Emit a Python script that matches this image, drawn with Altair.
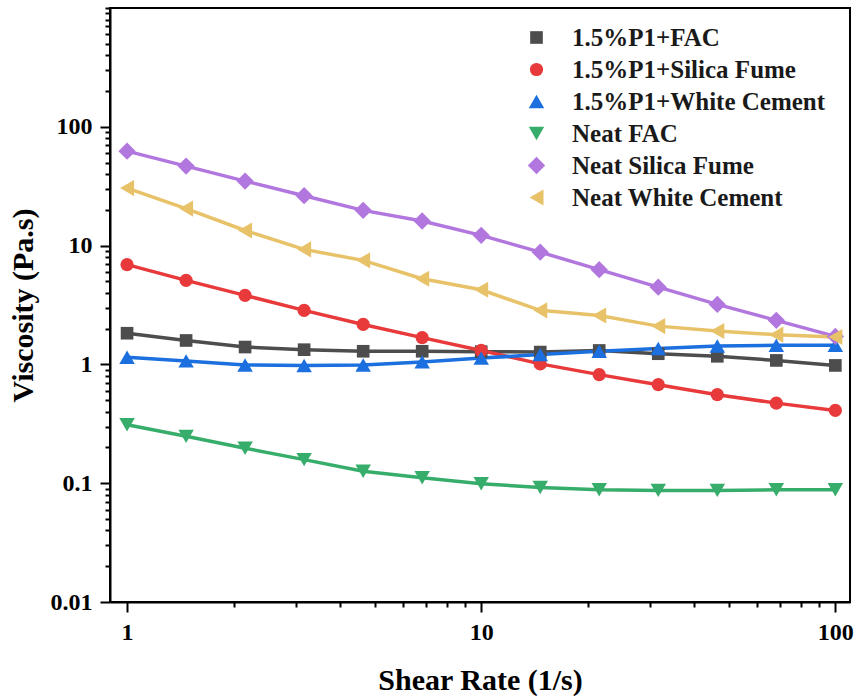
import altair as alt
import pandas as pd

shear_rate = [1, 1.468, 2.154, 3.162, 4.642, 6.813, 10, 14.68, 21.54, 31.62, 46.42, 68.13, 100]

series_names = [
    "1.5%P1+FAC",
    "1.5%P1+Silica Fume",
    "1.5%P1+White Cement",
    "Neat FAC",
    "Neat Silica Fume",
    "Neat White Cement",
]

p1_fac = [1.83, 1.59, 1.40, 1.33, 1.29, 1.29, 1.28, 1.27, 1.31, 1.23, 1.17, 1.08, 0.98]
p1_silica = [6.91, 5.10, 3.81, 2.85, 2.17, 1.68, 1.31, 1.01, 0.82, 0.675, 0.556, 0.472, 0.410]
p1_white = [1.15, 1.07, 0.99, 0.98, 0.99, 1.05, 1.13, 1.21, 1.29, 1.36, 1.43, 1.45, 1.45]
neat_fac = [0.31, 0.248, 0.197, 0.158, 0.126, 0.111, 0.099, 0.092, 0.088, 0.087, 0.087, 0.088, 0.088]
neat_silica = [62.4, 46.7, 34.9, 26.3, 19.8, 16.1, 12.2, 8.81, 6.27, 4.47, 3.20, 2.35, 1.72]
neat_white = [30.5, 20.5, 13.4, 9.29, 7.51, 5.26, 4.25, 2.85, 2.58, 2.10, 1.91, 1.78, 1.70]

colors = ["#4d4d4d", "#e8393b", "#1b6fdf", "#37ad6b", "#b177de", "#e8c268"]
shapes = ["square", "circle", "triangle-up", "triangle-down", "diamond", "triangle-left"]
sizes = [160, 175, 240, 240, 300, 260]

x_major = [1, 10, 100]
x_minor = [2, 3, 4, 5, 6, 7, 8, 9, 20, 30, 40, 50, 60, 70, 80, 90]
y_major = [0.01, 0.1, 1, 10, 100]
y_minor = [0.02, 0.03, 0.04, 0.05, 0.06, 0.07, 0.08, 0.09,
           0.2, 0.3, 0.4, 0.5, 0.6, 0.7, 0.8, 0.9,
           2, 3, 4, 5, 6, 7, 8, 9,
           20, 30, 40, 50, 60, 70, 80, 90,
           200, 300, 400, 500, 600, 700, 800, 900, 1000]

all_series = [p1_fac, p1_silica, p1_white, neat_fac, neat_silica, neat_white]
rows = []
for name, vals in zip(series_names, all_series):
    for i, (xv, yv) in enumerate(zip(shear_rate, vals)):
        rows.append({"series": name, "line_series": name, "x": xv, "y": yv, "i": i})
df = pd.DataFrame(rows)

FONT = "Liberation Serif"

def major_test(vals):
    return "indexof([" + ",".join(str(v) for v in vals) + "], datum.value) >= 0"

x_axis = alt.Axis(
    values=x_major + x_minor,
    title="Shear Rate (1/s)",
    labelExpr=major_test(x_major) + " ? datum.label : ''",
    format="~g",
    tickSize={"condition": {"test": major_test(x_major), "value": 10}, "value": 5},
    labelPadding=8,
    titlePadding=21,
    grid=False,
)
y_axis = alt.Axis(
    values=y_major + y_minor,
    title="Viscosity (Pa.s)",
    labelExpr=major_test(y_major) + " ? datum.label : ''",
    format="~g",
    tickSize={"condition": {"test": major_test(y_major), "value": 10}, "value": 5},
    labelPadding=8,
    titlePadding=12,
    grid=False,
)

x_enc = alt.X("x:Q", scale=alt.Scale(type="log", domain=[0.895, 110], nice=False), axis=x_axis)
y_enc = alt.Y("y:Q", scale=alt.Scale(type="log", domain=[0.01, 1000], nice=False), axis=y_axis)

color_scale = alt.Scale(domain=series_names, range=colors)
shape_scale = alt.Scale(domain=series_names, range=shapes)
size_scale = alt.Scale(type="ordinal", domain=series_names, range=sizes)
# line colours: domain taken from the data (same alphabetical order as series_names)
line_scale = alt.Scale(range=colors)

legend = alt.Legend(
    orient="none",
    legendX=414,
    legendY=17,
    title=None,
    labelFont=FONT,
    labelFontSize=25,
    labelFontWeight="bold",
    labelColor="#1a1a1a",
    labelLimit=0,
    labelOffset=23,
    rowPadding=6,
    symbolStrokeWidth=0,
    symbolOpacity=1,
)

lines = alt.Chart(df).mark_line(strokeWidth=3.5, clip=True).encode(
    x=x_enc,
    y=y_enc,
    stroke=alt.Stroke("line_series:N", scale=line_scale, legend=None),
    order="i:Q",
)

points = alt.Chart(df).mark_point(filled=True, opacity=1, strokeWidth=0).encode(
    x=x_enc,
    y=y_enc,
    color=alt.Color("series:N", scale=color_scale, legend=legend),
    shape=alt.Shape("series:N", scale=shape_scale, legend=legend),
    size=alt.Size("series:N", scale=size_scale, legend=legend),
)

chart = alt.layer(lines, points).properties(
    width=740,
    height=594,
    padding={"left": 110, "top": 8, "right": 6, "bottom": 98},
    autosize=alt.AutoSizeParams(type="none"),
    background="white",
).configure_view(
    stroke="black", strokeWidth=2
).configure_axis(
    domainColor="black",
    domainWidth=2,
    tickColor="black",
    tickWidth=2,
    labelFont=FONT,
    labelFontSize=24,
    labelFontWeight="bold",
    labelColor="black",
    titleFont=FONT,
    titleFontSize=30,
    titleFontWeight="bold",
    titleColor="black",
    labelFlush=False,
    labelOverlap=False,
)

chart.save("out.html", embed_options={"renderer": "svg", "actions": False})
